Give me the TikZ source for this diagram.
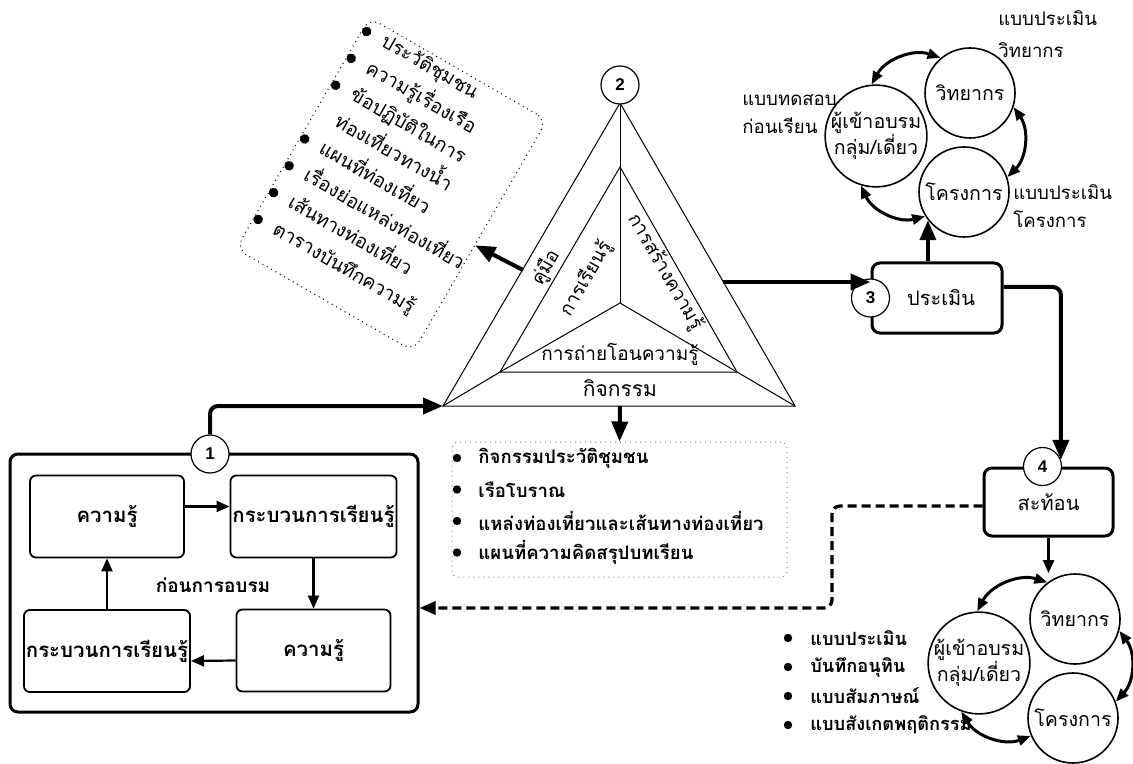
\documentclass[tikz,border=0pt]{standalone}
\usepackage{fontspec}
\setmainfont[Script=Thai]{Loma}
\newfontfamily\numfont{Liberation Sans}
\usetikzlibrary{calc,arrows.meta}

\begin{document}
\begin{tikzpicture}[x=0.5pt, y=-0.5pt,
  numcirc/.style = {circle, draw, line width=0.6pt, fill=white, minimum size=19pt, inner sep=0pt, font=\numfont\bfseries\fontsize{8.5}{8.5}\selectfont},
  stagebox/.style = {draw, line width=1.5pt, rounded corners=4pt, fill=white},
  stepbox/.style = {draw, line width=0.9pt, rounded corners=3pt, minimum width=77pt, minimum height=41pt, inner sep=1pt, font=\bfseries\fontsize{10.2}{12}\selectfont},
  role/.style = {circle, draw, line width=0.8pt, minimum size=45pt, inner sep=0pt, align=center, font=\fontsize{9.8}{13}\selectfont},
  flow/.style = {line width=2pt, rounded corners=4pt, -{Triangle[length=10pt, width=8pt]}},
  inflow/.style = {line width=1.1pt, -{Triangle[length=6.5pt, width=5.5pt]}},
  twoway/.style = {line width=1.5pt, {Triangle[length=6.5pt, width=5pt]}-{Triangle[length=6.5pt, width=5pt]}},
  back/.style = {line width=1.6pt, dash pattern=on 4.5pt off 2.5pt, rounded corners=4pt, -{Triangle[length=8pt, width=6.5pt]}},
  tri/.style = {line width=0.5pt},
  trilabel/.style = {font=\fontsize{9.5}{11}\selectfont},
  listtxt/.style = {anchor=west, inner sep=0pt},
  note/.style = {align=left, anchor=west, inner sep=0pt, font=\fontsize{9.3}{14}\selectfont},
]

\useasboundingbox (0,0) rectangle (1133,764);

% triangle (2)
\coordinate (tA) at (620,103);
\coordinate (tL) at (443,406);
\coordinate (tR) at (795,406);
\coordinate (iA) at (620,167);
\coordinate (iL) at (500,372);
\coordinate (iR) at (737,372);
\coordinate (tO) at (620,303);
\coordinate (tB) at (620,406);
\coordinate (lEdge) at (523,270);
\coordinate (rEdge) at (723,282);

\draw[tri] (tA) -- (tL) -- (tR) -- cycle;
\draw[tri] (iA) -- (iL) -- (iR) -- cycle;
\draw[tri] (tA) -- (tO);
\draw[tri] (iL) -- (tO) -- (iR);
\draw[tri] (tL) -- (iL);
\draw[tri] (tR) -- (iR);

\node[numcirc] (c2) at (620,85) {2};

\node[trilabel, font=\fontsize{10.5}{12}\selectfont] (act) at (620,388) {กิจกรรม};
\node[trilabel] (trans) at (620,354) {การถ่ายโอนความรู้};
\node[trilabel, rotate=60] (manual) at (546,268) {คู่มือ};
\node[trilabel, rotate=60] (learn) at (586,279) {การเรียนรู้};
\node[trilabel, rotate=-60] (build) at (665,272) {การสร้างความรู้};

% guide book list
\begin{scope}[shift={(391.5,184.5)}, rotate=-30, transform shape]
\node[draw, dotted, line width=0.5pt, rounded corners=6pt, minimum width=102.5pt, minimum height=133.5pt] (guide) at (0,0) {};
\node[listtxt, align=left, font=\fontsize{9.6}{15.5}\selectfont] (glist) at (-80,-11.5)
  {ประวัติชุมชน\\ความรู้เรื่องเรือ\\ข้อปฏิบัติในการ\\ท่องเที่ยวทางน้ำ\\แผนที่ท่องเที่ยว\\เรื่องย่อแหล่งท่องเที่ยว\\เส้นทางท่องเที่ยว\\ตารางบันทึกความรู้};
\foreach \k in {0,1,2,4,5,6,7}
  \fill (-98,-120+31*\k) circle (2.4pt);
\end{scope}

\draw[flow] (lEdge) -- (guide.-6.5);

% activity list
\node[draw, dotted, gray, line width=0.5pt, rounded corners=3pt, minimum width=167.5pt, minimum height=67.5pt] (actlist) at (619.5,509.5) {};
\foreach \txt [count=\k from 0] in {กิจกรรมประวัติชุมชน, เรือโบราณ, แหล่งท่องเที่ยวและเส้นทางท่องเที่ยว, แผนที่ความคิดสรุปบทเรียน} {
  \node[listtxt, font=\bfseries\fontsize{9.3}{11}\selectfont] (a\k) at (478,458+31.5*\k) {\txt};
  \fill (457,458+31.5*\k) circle (2.1pt);
}
\draw[flow] (tB) -- (actlist.north);

% stage 1
\node[stagebox, minimum width=204pt, minimum height=129pt] (stage1) at (214,583) {};
\node[stepbox] (kTL) at (107,516.5) {ความรู้};
\node[stepbox] (kTR) at (313.5,516.5) {กระบวนการเรียนรู้};
\node[stepbox] (kBR) at (313.5,650.5) {ความรู้};
\node[stepbox] (kBL) at (107,651) {กระบวนการเรียนรู้};
\node[font=\bfseries\fontsize{9.5}{12}\selectfont] (pre) at (213,585) {ก่อนการอบรม};
\node[numcirc] (c1) at (210,454) {1};

\draw[inflow] ([yshift=5pt]kTL.east) -- ([yshift=5pt]kTR.west);
\draw[inflow] (kTR.south) -- (kBR.north);
\draw[inflow] ([yshift=-5pt]kBR.west) -- ([yshift=-5pt]kBL.east);
\draw[inflow] (kBL.north) -- (kTL.south);

\draw[flow] (c1.north) |- (tL);

% stage 3
\node[stagebox, minimum width=65pt, minimum height=35pt, font=\fontsize{10}{12}\selectfont] (box3) at (937,298) {\hspace*{4pt}ประเมิน};
\node[numcirc] (c3) at (box3.west) {3};
\draw[flow] (rEdge) -- (rEdge -| c3.north);

\node[role] (pjT) at (876,136) {ผู้เข้าอบรม\\กลุ่ม/เดี่ยว};
\node[role] (vtT) at (970,93) {วิทยากร};
\node[role] (ocT) at (964,192) {โครงการ};
\draw[twoway] (pjT.95) to[bend left=40] (vtT.130);
\draw[twoway] (vtT.-18) to[bend left=40] (ocT.19);
\draw[twoway] (pjT.253) to[bend right=40] (ocT.212);
\draw[flow] (box3.north -| ocT.218) -- (ocT.218);

\node[note] (preTest) at (742,114) {แบบทดสอบ\\ก่อนเรียน};
\node[note, font=\fontsize{9.3}{16}\selectfont] (evalLec) at (998,34) {แบบประเมิน\\วิทยากร};
\node[note] (evalProj) at (1013,206) {แบบประเมิน\\โครงการ};

% stage 4
\node[stagebox, minimum width=64.5pt, minimum height=34pt, font=\fontsize{10}{12}\selectfont] (box4) at (1048.5,502) {สะท้อน};
\node[numcirc] (c4) at ([xshift=-3pt]box4.north) {4};
\draw[flow] ([yshift=5.5pt]box3.east) -| (c4.20);

\node[role] (pjB) at (979,663) {ผู้เข้าอบรม\\กลุ่ม/เดี่ยว};
\node[role] (vtB) at (1075,619) {วิทยากร};
\node[role] (ocB) at (1073,718) {โครงการ};
\draw[twoway] (pjB.92) to[bend left=40] (vtB.127);
\draw[twoway] (vtB.-15) to[bend left=40] (ocB.21);
\draw[twoway] (pjB.250) to[bend right=40] (ocB.203);
\draw[inflow] (box4.south) -- (box4.south |- vtB.north);

\foreach \txt [count=\k from 0] in {แบบประเมิน, บันทึกอนุทิน, แบบสัมภาษณ์, แบบสังเกตพฤติกรรม} {
  \node[listtxt, font=\bfseries\fontsize{9.1}{11}\selectfont] (r\k) at (810,638+29*\k) {\txt};
  \fill (788,638+29*\k) circle (2.1pt);
}

\coordinate (dk) at (832,608);
\draw[back] ([yshift=-2pt]box4.west) -| (dk) -- (dk -| stage1.east);

\end{tikzpicture}
\end{document}
